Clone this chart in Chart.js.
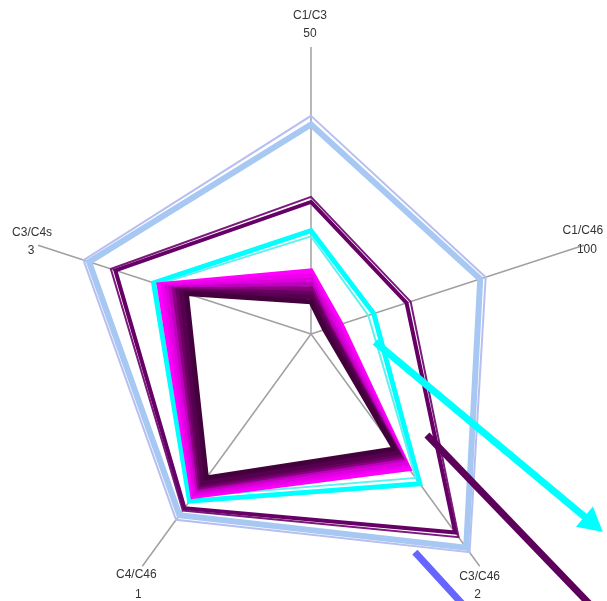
<!DOCTYPE html>
<html>
<head>
<meta charset="utf-8">
<script src="https://cdn.jsdelivr.net/npm/chart.js@4.4.0/dist/chart.umd.min.js"></script>
<style>
  html, body { margin: 0; padding: 0; background: #ffffff; overflow: hidden; }
  #wrap { width: 607px; height: 621px; position: relative; }
</style>
</head>
<body>
<div id="wrap"><canvas id="radar"></canvas></div>
<script>
// Ratio axes, clockwise from the top, and the full-scale value of each axis
const axisNames = ['C1/C3', 'C1/C46', 'C3/C46', 'C4/C46', 'C3/C4s'];
const axisMax = [50, 100, 2, 1, 3];
const axisMaxLabels = ['50', '100', '2', '1', '3'];

// Sample profiles, values in the units of each axis
const blueOuter   = [38.0, 64, 1.88, 0.80, 2.50];
const blueMain    = [36.5, 62, 1.84, 0.78, 2.44];
const purpleOuter = [23.9, 36.5, 1.75, 0.76, 2.20];
const purpleMain  = [23.0, 35, 1.71, 0.75, 2.15];
const cyanMain    = [18.0, 23, 1.29, 0.72, 1.73];
const cyanInner   = [17.0, 21, 1.24, 0.70, 1.68];
const band1 = [11.0, 11.0, 1.16, 0.70, 1.67];
const band2 = [10.2, 10.0, 1.13, 0.69, 1.62];
const band3 = [9.4, 9.0, 1.11, 0.68, 1.58];
const band4 = [8.7, 8.0, 1.08, 0.67, 1.54];
const band5 = [7.9, 7.0, 1.06, 0.66, 1.50];
const band6 = [7.1, 6.5, 1.04, 0.65, 1.46];
const band7 = [6.4, 6.0, 1.02, 0.64, 1.42];
const band8 = [5.6, 5.0, 0.99, 0.62, 1.37];

// Each axis is shown as a percentage of its own full scale
const toPct = vals => vals.map((v, i) => v / axisMax[i] * 100);

function series(vals, color, width) {
  return {
    data: toPct(vals),
    borderColor: color,
    borderWidth: width,
    backgroundColor: 'transparent',
    fill: false,
    pointRadius: 0,
    pointHoverRadius: 0,
    tension: 0,
    borderJoinStyle: 'miter'
  };
}

// First listed is drawn on top
const datasets = [
  series(band8, '#44003c', 5),
  series(band7, '#560050', 5),
  series(band6, '#6a0062', 5),
  series(band5, '#8a0080', 5),
  series(band4, '#c000c0', 5),
  series(band3, '#dd00dd', 5),
  series(band2, '#ee00ee', 5),
  series(band1, '#ff00ff', 5),
  series(cyanInner, '#5ff0f0', 2),
  series(cyanMain, '#00ffff', 5),
  series(purpleMain, '#660066', 4),
  series(purpleOuter, '#7a1a7a', 2),
  series(blueMain, '#a6c8f2', 6),
  series(blueOuter, '#b8bff0', 2)
];

// Two-line axis captions: name over full-scale value, offsets from each axis end
const captionPlugin = {
  id: 'axisCaptions',
  afterDraw(chart, args, opts) {
    const scale = chart.scales.r;
    const ctx = chart.ctx;
    ctx.save();
    ctx.font = '12px "Liberation Sans", Arial, sans-serif';
    ctx.fillStyle = '#333333';
    ctx.textAlign = 'center';
    ctx.textBaseline = 'middle';
    axisNames.forEach((name, i) => {
      const p = scale.getPointPosition(i, scale.drawingArea);
      const o = opts.offsets[i];
      ctx.fillText(name, p.x + o[0], p.y + o[1]);
      ctx.fillText(axisMaxLabels[i], p.x + o[2], p.y + o[3]);
    });
    ctx.restore();
  }
};

// Pointer arrows, given relative to the radar centre in units of its radius
const arrowPlugin = {
  id: 'pointerArrows',
  afterDatasetsDraw(chart, args, opts) {
    const scale = chart.scales.r;
    const ctx = chart.ctx;
    const R = scale.drawingArea;
    const cx = scale.xCenter, cy = scale.yCenter;
    ctx.save();
    opts.arrows.forEach(a => {
      const x1 = cx + a.from[0] * R, y1 = cy + a.from[1] * R;
      const x2 = cx + a.to[0] * R, y2 = cy + a.to[1] * R;
      const ang = Math.atan2(y2 - y1, x2 - x1);
      const head = a.head || 0;
      const ex = x2 - Math.cos(ang) * head * 0.8;
      const ey = y2 - Math.sin(ang) * head * 0.8;
      ctx.strokeStyle = a.color;
      ctx.fillStyle = a.color;
      ctx.lineWidth = a.width;
      ctx.lineCap = 'butt';
      ctx.beginPath();
      ctx.moveTo(x1, y1);
      ctx.lineTo(head ? ex : x2, head ? ey : y2);
      ctx.stroke();
      if (head) {
        const w = head * 0.55;
        const bx = x2 - Math.cos(ang) * head, by = y2 - Math.sin(ang) * head;
        ctx.beginPath();
        ctx.moveTo(x2, y2);
        ctx.lineTo(bx + Math.sin(ang) * w, by - Math.cos(ang) * w);
        ctx.lineTo(bx - Math.sin(ang) * w, by + Math.cos(ang) * w);
        ctx.closePath();
        ctx.fill();
      }
    });
    ctx.restore();
  }
};

new Chart(document.getElementById('radar'), {
  type: 'radar',
  data: { labels: axisNames, datasets: datasets },
  plugins: [captionPlugin, arrowPlugin],
  options: {
    responsive: true,
    maintainAspectRatio: false,
    animation: false,
    events: [],
    layout: { padding: { left: 24, right: 9, top: 47, bottom: 0 } },
    elements: { line: { borderCapStyle: 'butt' } },
    scales: {
      r: {
        min: 0,
        max: 100,
        startAngle: 0,
        ticks: { display: false },
        grid: { display: false },
        angleLines: { display: true, color: '#a0a0a0', lineWidth: 1.5 },
        pointLabels: { display: false }
      }
    },
    plugins: {
      legend: { display: false },
      tooltip: { enabled: false },
      axisCaptions: {
        offsets: [
          [-1, -31, -1, -13],
          [-1, -15, 3, 4],
          [0, 10, -2, 28],
          [-6, 8, -4, 28],
          [-6, -13, -7, 5]
        ]
      },
      pointerArrows: {
        arrows: [
          { from: [0.223, 0.028], to: [1.017, 0.690], color: '#00ffff', width: 7, head: 24 },
          { from: [0.404, 0.352], to: [0.991, 0.962], color: '#5c005c', width: 7 },
          { from: [0.362, 0.760], to: [0.547, 0.962], color: '#6666ff', width: 7 }
        ]
      }
    }
  }
});
</script>
</body>
</html>
